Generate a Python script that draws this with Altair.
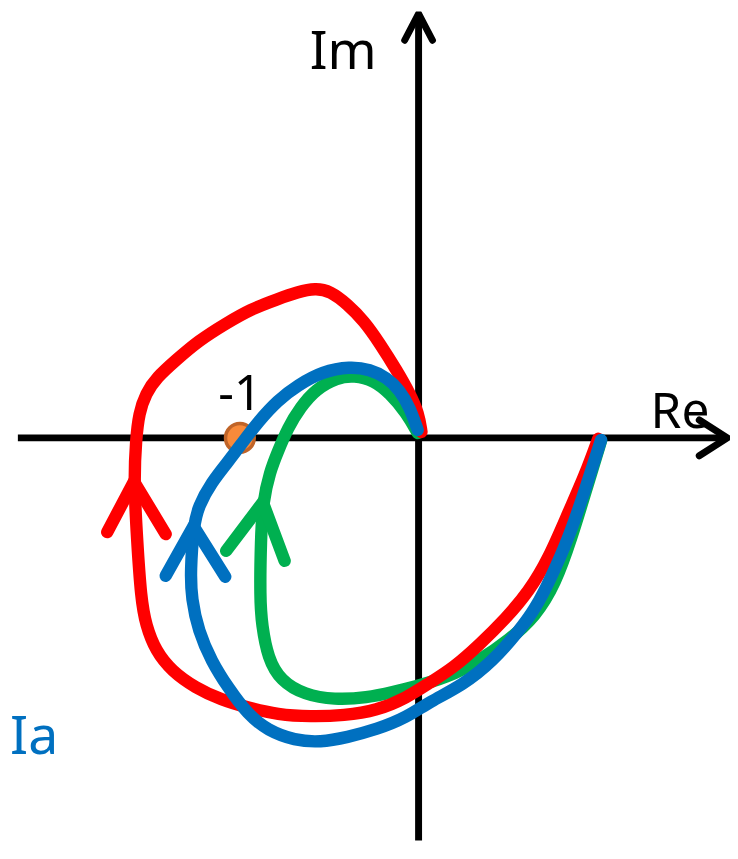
import altair as alt
import pandas as pd

# ---- data (units: critical point -1 at x=-1) ----
red_x = [0.995, 0.923, 0.830, 0.720, 0.610, 0.484, 0.335, 0.192, 0.060, -0.066, -0.231, -0.412, -0.599, -0.780, -0.945, -1.093, -1.236, -1.368, -1.456, -1.511, -1.538, -1.560, -1.577, -1.566, -1.549, -1.511, -1.451, -1.346, -1.220, -1.071, -0.929, -0.780, -0.670, -0.571, -0.489, -0.396, -0.302, -0.214, -0.121, -0.049, 0.000, 0.016]
red_y = [-0.005, -0.203, -0.412, -0.670, -0.852, -1.000, -1.148, -1.275, -1.357, -1.440, -1.511, -1.538, -1.544, -1.533, -1.495, -1.451, -1.385, -1.291, -1.181, -1.038, -0.890, -0.560, -0.242, -0.011, 0.137, 0.247, 0.335, 0.429, 0.538, 0.632, 0.714, 0.769, 0.808, 0.830, 0.813, 0.742, 0.648, 0.522, 0.374, 0.247, 0.137, 0.033]

blue_x = [1.011, 0.929, 0.830, 0.731, 0.648, 0.555, 0.412, 0.247, 0.060, -0.066, -0.231, -0.396, -0.544, -0.687, -0.835, -0.945, -1.055, -1.148, -1.220, -1.258, -1.264, -1.247, -1.220, -1.148, -1.055, -0.973, -0.890, -0.780, -0.670, -0.533, -0.379, -0.269, -0.176, -0.104, -0.049, -0.005]
blue_y = [-0.011, -0.269, -0.560, -0.780, -0.945, -1.071, -1.236, -1.368, -1.462, -1.549, -1.615, -1.659, -1.687, -1.676, -1.621, -1.533, -1.385, -1.236, -1.071, -0.890, -0.742, -0.489, -0.379, -0.247, -0.132, -0.022, 0.088, 0.209, 0.291, 0.368, 0.396, 0.379, 0.335, 0.264, 0.170, 0.044]

green_x = [1.011, 0.934, 0.846, 0.758, 0.648, 0.500, 0.335, 0.154, -0.027, -0.137, -0.286, -0.467, -0.632, -0.764, -0.835, -0.868, -0.879, -0.874, -0.863, -0.824, -0.780, -0.725, -0.654, -0.571, -0.451, -0.357, -0.247, -0.159, -0.066, -0.005]
green_y = [-0.016, -0.269, -0.560, -0.808, -0.989, -1.121, -1.236, -1.330, -1.379, -1.407, -1.440, -1.451, -1.423, -1.346, -1.220, -1.038, -0.890, -0.560, -0.357, -0.187, -0.077, 0.055, 0.170, 0.269, 0.335, 0.346, 0.319, 0.247, 0.137, 0.027]

# arrowheads: left arm end, apex, right arm end
red_head_x = [-1.725, -1.577, -1.401]
red_head_y = [-0.522, -0.242, -0.533]
blue_head_x = [-1.401, -1.247, -1.071]
blue_head_y = [-0.764, -0.489, -0.769]
green_head_x = [-1.066, -0.863, -0.742]
green_head_y = [-0.626, -0.357, -0.681]

# axes (Re axis, Im axis) and their arrowheads
re_axis_x = [-2.22, 1.71]
re_axis_y = [0.0, 0.0]
re_head_x = [1.555, 1.71, 1.555]
re_head_y = [0.099, 0.0, -0.099]
im_axis_x = [0.0, 0.0]
im_axis_y = [-2.31, 2.35]
im_head_x = [-0.077, 0.0, 0.077]
im_head_y = [2.203, 2.35, 2.203]

crit_x = [-0.99]
crit_y = [0.0]

labels = ["Im", "Re", "-1", "Ia"]
label_x = [-0.418, 1.448, -0.989, -2.13]
label_y = [2.044, 0.055, 0.154, -1.753]
label_color = ["black", "black", "black", "#0070C0"]
label_size = [53, 50, 49, 54]

# ---- build tables ----
def path(name, xs, ys):
    return pd.DataFrame({"name": name, "x": xs, "y": ys, "i": range(len(xs))})

X = alt.Scale(domain=[-2.2747, 1.7253], nice=False, zero=False)
Y = alt.Scale(domain=[-2.2308, 2.3626], nice=False, zero=False)

def line(df, color, width, interp="linear", join="round"):
    return alt.Chart(df).mark_line(
        color=color, strokeWidth=width, strokeCap="round", strokeJoin=join,
        interpolate=interp, clip=True
    ).encode(
        x=alt.X("x:Q", scale=X, axis=None),
        y=alt.Y("y:Q", scale=Y, axis=None),
        order="i:Q",
        detail="name:N",
    )

axes_df = pd.concat([
    path("re", re_axis_x, re_axis_y),
    path("im", im_axis_x, im_axis_y),
])
heads_axes_df = pd.concat([
    path("reh", re_head_x, re_head_y),
    path("imh", im_head_x, im_head_y),
])

axes = alt.Chart(axes_df).mark_line(color="black", strokeWidth=7, strokeCap="butt", clip=True).encode(
    x=alt.X("x:Q", scale=X, axis=None),
    y=alt.Y("y:Q", scale=Y, axis=None),
    order="i:Q", detail="name:N",
)
axis_heads = line(heads_axes_df, "black", 7, join="miter")

point = alt.Chart(pd.DataFrame({"x": crit_x, "y": crit_y})).mark_point(
    shape="circle", filled=True, size=840, fill="#F88A3A", stroke="#C06428",
    strokeWidth=3.5, opacity=1
).encode(
    x=alt.X("x:Q", scale=X, axis=None),
    y=alt.Y("y:Q", scale=Y, axis=None),
)

W = 12.5
green = line(path("g", green_x, green_y), "#00B050", W, "basis")
red = line(path("r", red_x, red_y), "#FF0000", W, "basis")
blue = line(path("b", blue_x, blue_y), "#0070C0", W, "basis")

green_head = line(path("gh", green_head_x, green_head_y), "#00B050", W, join="miter")
red_head = line(path("rh", red_head_x, red_head_y), "#FF0000", W, join="miter")
blue_head = line(path("bh", blue_head_x, blue_head_y), "#0070C0", W, join="miter")

text_df = pd.DataFrame({"t": labels, "x": label_x, "y": label_y, "c": label_color, "s": label_size})
texts = alt.Chart(text_df).mark_text(
    font="Noto Sans", align="center", baseline="alphabetic"
).encode(
    x=alt.X("x:Q", scale=X, axis=None),
    y=alt.Y("y:Q", scale=Y, axis=None),
    text="t:N",
    color=alt.Color("c:N", scale=None),
    size=alt.Size("s:Q", scale=None),
)

chart = alt.layer(
    axes, axis_heads, point, green, red, blue, green_head, red_head, blue_head, texts
).properties(
    width=728, height=836, padding=0
).configure_view(stroke=None)

chart.save("out.html", embed_options={"renderer": "svg", "actions": False})
